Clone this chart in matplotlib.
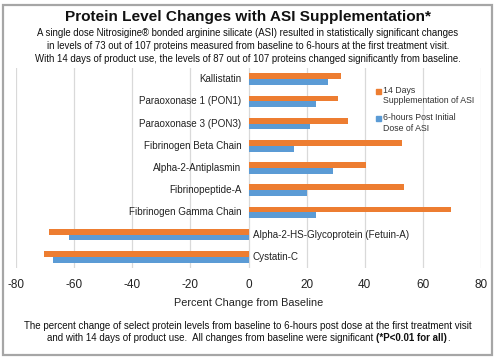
import matplotlib
matplotlib.use("Agg")
import matplotlib.pyplot as plt
from matplotlib.patches import Rectangle
import numpy as np

plt.rcParams['font.family'] = ['Liberation Sans', 'DejaVu Sans']

categories = ["Kallistatin", "Paraoxonase 1 (PON1)", "Paraoxonase 3 (PON3)",
              "Fibrinogen Beta Chain", "Alpha-2-Antiplasmin", "Fibrinopeptide-A",
              "Fibrinogen Gamma Chain", "Alpha-2-HS-Glycoprotein (Fetuin-A)", "Cystatin-C"]
days14 = [31.9, 30.9, 34.4, 52.8, 40.4, 53.6, 69.8, -68.7, -70.3]
hours6 = [27.3, 23.3, 21.3, 15.5, 29.2, 20.2, 23.3, -61.9, -67.1]
xticks = [-80, -60, -40, -20, 0, 20, 40, 60, 80]

W, H = 496, 359
fig = plt.figure(figsize=(W / 100, H / 100), dpi=100)

def fx(px): return px / W
def fy(py): return 1 - py / H

# frame
fig.patches.append(Rectangle((fx(3), fy(355)), fx(489), 350 / H, transform=fig.transFigure,
                             fill=False, edgecolor='#A6A6A6', linewidth=1.6))

ax = fig.add_axes([fx(16), fy(268), fx(465), (268 - 68) / H])
y = np.arange(len(categories))
bh = 0.26
orange = '#ED7D31'
blue = '#5B9BD5'
ax.barh(y - bh / 2, days14, height=bh, color=orange, zorder=3)
ax.barh(y + bh / 2, hours6, height=bh, color=blue, zorder=3)
ax.set_ylim(len(categories) - 0.5, -0.5)
ax.set_xlim(-80, 80)
ax.set_xticks(xticks)
ax.set_xticklabels([str(t) for t in xticks], fontsize=8.5, color='#222222')
ax.tick_params(axis='x', length=0, pad=8)
ax.tick_params(axis='y', left=False, labelleft=False)
ax.grid(axis='x', color='#D9D9D9', linewidth=0.9, zorder=0)
for s in ax.spines.values():
    s.set_visible(False)
ax.set_xlabel("Percent Change from Baseline", fontsize=7.8, color='#222222', labelpad=5)

for i, (c, v) in enumerate(zip(categories, days14)):
    if v >= 0:
        ax.annotate(c, (0, i), xytext=(-5, 0), textcoords='offset points',
                    ha='right', va='center', fontsize=7.1, color='#222222')
    else:
        ax.annotate(c, (0, i), xytext=(3, 0), textcoords='offset points',
                    ha='left', va='center', fontsize=7.1, color='#222222')

# legend (manual)
for (yy, col, txt) in [(91, orange, "14 Days\nSupplementation of ASI"),
                       (118.5, blue, "6-hours Post Initial\nDose of ASI")]:
    fig.patches.append(Rectangle((fx(375.5), fy(yy + 2.5)), fx(5), 5 / H,
                                 transform=fig.transFigure, color=col))
    fig.text(fx(383), fy(yy - 5), txt, fontsize=6.3, color='#333333', va='top',
             ha='left', linespacing=1.2)

# titles
fig.text(fx(248), fy(17), "Protein Level Changes with ASI Supplementation*",
         fontsize=11.1, fontweight='bold', ha='center', va='center', color='#111111')
sub = ["A single dose Nitrosigine\u00ae bonded arginine silicate (ASI) resulted in statistically significant changes",
       "in levels of 73 out of 107 proteins measured from baseline to 6-hours at the first treatment visit.",
       "With 14 days of product use, the levels of 87 out of 107 proteins changed significantly from baseline."]
for k, s in enumerate(sub):
    fig.text(fx(248), fy(33 + 12.8 * k), s, fontsize=6.95, ha='center', va='center', color='#111111')

# footnote
fig.text(fx(248), fy(326), "The percent change of select protein levels from baseline to 6-hours post dose at the first treatment visit",
         fontsize=7.0, ha='center', va='center', color='#111111')
t1 = fig.text(0, fy(338), "and with 14 days of product use.  All changes from baseline were significant ",
              fontsize=7.0, ha='left', va='center', color='#111111')
t2 = fig.text(0, fy(338), "(*P<0.01 for all)", fontsize=7.0, fontweight='bold', ha='left', va='center', color='#111111')
t3 = fig.text(0, fy(338), ".", fontsize=7.0, ha='left', va='center', color='#111111')
fig.canvas.draw()
r = fig.canvas.get_renderer()
w1 = t1.get_window_extent(r).width
w2 = t2.get_window_extent(r).width
w3 = t3.get_window_extent(r).width
x0 = 248 - (w1 + w2 + w3) / 2
t1.set_x(fx(x0))
t2.set_x(fx(x0 + w1))
t3.set_x(fx(x0 + w1 + w2))

fig.savefig("out.png", dpi=100)
